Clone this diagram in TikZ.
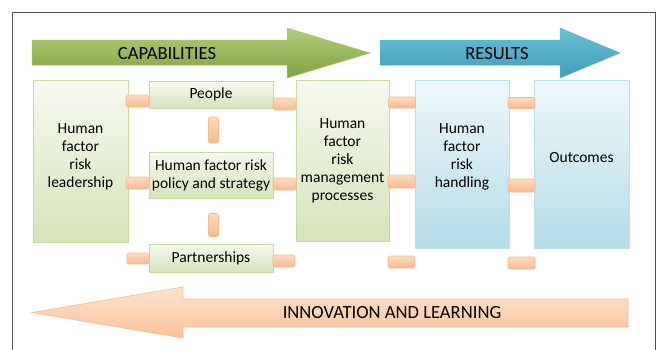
\documentclass[tikz,border=0pt]{standalone}
\usepackage{fontspec}
\setmainfont{Carlito}
\usetikzlibrary{shadows}
\definecolor{frameC}{HTML}{555555}
\definecolor{gTop}{HTML}{B3CD7A}
\definecolor{gBot}{HTML}{7FA23E}
\definecolor{bTop}{HTML}{6CC0D6}
\definecolor{bBot}{HTML}{3E9DBB}
\definecolor{oTop}{HTML}{FDE3CD}
\definecolor{oBot}{HTML}{F9C29A}
\definecolor{oLine}{HTML}{F6B98C}
\definecolor{gbLine}{HTML}{C6D9A0}
\definecolor{gbTop}{HTML}{F6F9EF}
\definecolor{gbBot}{HTML}{D6E4BB}
\definecolor{bbLine}{HTML}{B9DFEA}
\definecolor{bbTop}{HTML}{EEF8FB}
\definecolor{bbBot}{HTML}{B5DCE8}
\definecolor{cTop}{HTML}{FCDCC2}
\definecolor{cBot}{HTML}{F7B98C}
\tikzset{
  boxtext/.style={align=center, font=\fontsize{15.5}{18}\selectfont, inner sep=0pt},
  gbox/.style={draw=gbLine, line width=0.8pt, top color=gbTop, bottom color=gbBot,
    drop shadow={opacity=0.25, shadow xshift=1pt, shadow yshift=-1pt}, boxtext},
  bbox/.style={draw=bbLine, line width=0.8pt, top color=bbTop, bottom color=bbBot,
    drop shadow={opacity=0.25, shadow xshift=1pt, shadow yshift=-1pt}, boxtext},
  conn/.style={draw=oLine, line width=0.6pt, top color=cTop, bottom color=cBot,
    rounded corners=1.5pt, inner sep=0pt},
  arrtext/.style={font=\fontsize{18.6}{21}\selectfont, inner sep=0pt}
}
\begin{document}
\begin{tikzpicture}[x=1pt,y=-1pt]
\useasboundingbox (0,0) rectangle (660,349);
% frame
\draw[frameC, line width=0.9pt] (12,352) -- (12,12) -- (655,12) -- (655,352);
% big arrows
\shade[top color=gTop, bottom color=gBot, draw=gTop!80!gBot, line width=0.5pt]
  (32,40) -- (287,40) -- (287,28) -- (370,53) -- (287,78) -- (287,65) -- (32,65) -- cycle;
\shade[top color=bTop, bottom color=bBot, draw=bTop!70!bBot, line width=0.5pt]
  (380,40) -- (560,40) -- (560,28) -- (620,53) -- (560,78) -- (560,65) -- (380,65) -- cycle;
\shade[top color=oTop, bottom color=oBot, draw=oLine, line width=0.6pt]
  (628,299) -- (183,299) -- (183,287) -- (32,312.5) -- (183,338) -- (183,327) -- (628,327) -- cycle;
\node[arrtext] (cap) at (167,54) {CAPABILITIES};
\node[arrtext] (res) at (497,54) {RESULTS};
\node[arrtext] (inn) at (392,313) {INNOVATION AND LEARNING};
% boxes
\node[gbox, minimum width=95pt, minimum height=162pt] (lead) at (80.5,161) {};
\node[boxtext] (leadT) at (80.5,157) {Human\\factor\\risk\\leadership};
\node[gbox, minimum width=124pt, minimum height=27pt] (people) at (211,94.5) {People};
\node[gbox, minimum width=124pt, minimum height=46pt] (policy) at (211,175) {Human factor risk\\policy and strategy};
\node[gbox, minimum width=124pt, minimum height=28pt] (part) at (211,258) {Partnerships};
\node[gbox, minimum width=93pt, minimum height=161pt] (mgmt) at (342.5,160.5) {Human\\factor\\risk\\management\\processes};
\node[bbox, minimum width=94pt, minimum height=168pt] (hand) at (462,164) {};
\node[boxtext] (handT) at (462,157) {Human\\factor\\risk\\handling};
\node[bbox, minimum width=95pt, minimum height=168pt] (outc) at (581.5,164) {};
\node[boxtext] (outcT) at (581.5,158) {Outcomes};
% connectors
\node[conn, minimum width=23pt, minimum height=12pt] (c1) at (137.5,101) {};
\node[conn, minimum width=23pt, minimum height=12pt] (c2) at (284.5,104) {};
\node[conn, minimum width=10pt, minimum height=26pt] (v1) at (213.5,130) {};
\node[conn, minimum width=23pt, minimum height=12pt] (c3) at (137.5,183) {};
\node[conn, minimum width=23pt, minimum height=12pt] (c4) at (284.5,184) {};
\node[conn, minimum width=10pt, minimum height=23pt] (v2) at (213.5,225) {};
\node[conn, minimum width=22pt, minimum height=11pt] (c5) at (138,258.5) {};
\node[conn, minimum width=22pt, minimum height=12pt] (c6) at (284,261) {};
\node[conn, minimum width=27pt, minimum height=11pt] (c7) at (402,102.5) {};
\node[conn, minimum width=27pt, minimum height=11pt] (c8) at (521.5,103) {};
\node[conn, minimum width=27pt, minimum height=13pt] (c9) at (401.5,181.5) {};
\node[conn, minimum width=27pt, minimum height=13pt] (c10) at (521.5,185.5) {};
\node[conn, minimum width=27pt, minimum height=12pt] (c11) at (401.5,262) {};
\node[conn, minimum width=27pt, minimum height=12pt] (c12) at (521.5,263) {};
\end{tikzpicture}
\end{document}
